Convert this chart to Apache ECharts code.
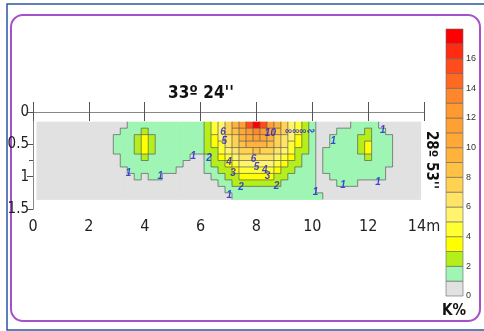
<!DOCTYPE html>
<html>
<head>
<meta charset="utf-8">
<script src="https://cdn.jsdelivr.net/npm/echarts@6/dist/echarts.min.js"></script>
<style>
    html, body {margin: 0; padding: 0; background: #fff;}
    #chart {width: 484px; height: 331px;}
</style>
</head>
<body>
<div id="chart"></div>
<script>
// distance along the profile (m), cell centres
const eastings = [0.25, 0.5, 0.75, 1, 1.25, 1.5, 1.75, 2, 2.25, 2.5, 2.75, 3, 3.25, 3.5, 3.75,
    4, 4.25, 4.5, 4.75, 5, 5.25, 5.5, 5.75, 6, 6.25, 6.5, 6.75, 7, 7.25, 7.5, 7.75,
    8, 8.25, 8.5, 8.75, 9, 9.25, 9.5, 9.75, 10, 10.25, 10.5, 10.75, 11, 11.25, 11.5, 11.75,
    12, 12.25, 12.5, 12.75, 13, 13.25, 13.5, 13.75];
// depth of each row (m)
const depths = [0.2, 0.3, 0.4, 0.5, 0.6, 0.7, 0.8, 0.9, 1.0, 1.1, 1.2, 1.3];

// K%, one row per depth
const k020 = [0.5,0.5,0.5,0.5,0.5, 0.5,0.5,0.5,0.5,0.5, 0.5,0.5,0.8,1.4,1.5, 1.9,1.5,1.4,1.4,1.4, 1.4,1.5,1.6,1.9,2.9,
    4.2,5.8,7.3,9.1,11.5, 15.0,17.2,15.0,11.5,9.1, 7.3,5.8,4.2,2.9,1.2, 0.5,0.5,0.5,0.5,0.9, 1.3,1.4,1.5,1.3,0.5, 0.5,0.5,0.5,0.5,0.5];
const k030 = [0.5,0.5,0.5,0.5,0.5, 0.5,0.5,0.5,0.5,0.5, 0.5,0.8,1.3,1.4,1.7, 2.6,1.7,1.4,1.4,1.4, 1.4,1.5,1.6,1.85,2.8,
    4.0,5.5,7.0,8.6,10.5, 12.8,13.8,12.8,10.5,8.6, 7.0,5.5,4.0,2.8,1.2, 0.5,0.5,0.7,1.05,1.4, 1.4,1.8,2.1,1.6,1.2, 0.5,0.5,0.5,0.5,0.5];
const k040 = [0.5,0.5,0.5,0.5,0.5, 0.5,0.5,0.5,0.5,0.5, 0.5,1.1,1.3,1.4,2.3, 3.4,2.3,1.5,1.4,1.4, 1.4,1.5,1.6,1.75,2.55,
    3.75,5.1,6.5,7.9,9.4, 10.7,11.4,10.7,9.4,7.9, 6.5,5.1,3.75,2.55,1.2, 0.5,0.7,1.05,1.3,1.4, 1.5,2.3,2.6,1.9,1.4, 1.1,0.5,0.5,0.5,0.5];
const k050 = [0.5,0.5,0.5,0.5,0.5, 0.5,0.5,0.5,0.5,0.5, 0.5,1.1,1.3,1.4,2.3, 3.5,2.3,1.5,1.4,1.4, 1.4,1.4,1.5,1.6,2.3,
    3.35,4.6,6.0,7.2,8.3, 9.2,9.5,9.2,8.3,7.2, 6.0,4.6,3.35,2.3,1.15, 0.5,0.8,1.2,1.4,1.4, 1.5,2.3,3.2,1.9,1.5, 1.2,0.8,0.5,0.5,0.5];
const k060 = [0.5,0.5,0.5,0.5,0.5, 0.5,0.5,0.5,0.5,0.5, 0.5,1.05,1.3,1.4,2.3, 3.1,2.3,1.5,1.4,1.4, 1.4,1.3,1.2,1.1,2.05,
    2.95,4.05,5.2,6.3,7.2, 7.8,8.1,7.8,7.2,6.3, 5.2,4.05,2.95,2.05,1.15, 0.5,1.0,1.3,1.4,1.4, 1.5,2.3,3.2,1.9,1.5, 1.2,0.8,0.5,0.5,0.5];
const k070 = [0.5,0.5,0.5,0.5,0.5, 0.5,0.5,0.5,0.5,0.5, 0.5,0.9,1.2,1.4,1.9, 2.4,1.9,1.4,1.4,1.3, 1.3,1.2,0.95,0.85,1.8,
    2.5,3.4,4.4,5.4,6.2, 6.7,6.9,6.7,6.2,5.4, 4.4,3.4,2.5,1.8,1.15, 0.5,1.05,1.3,1.4,1.4, 1.5,1.9,2.5,1.7,1.4, 1.2,0.7,0.5,0.5,0.5];
const k080 = [0.5,0.5,0.5,0.5,0.5, 0.5,0.5,0.5,0.5,0.5, 0.5,0.5,1.1,1.3,1.4, 1.6,1.4,1.3,1.3,1.2, 1.05,0.9,0.8,0.8,1.5,
    2.1,2.8,3.65,4.45,5.15, 5.6,5.8,5.6,5.15,4.45, 3.65,2.8,2.1,1.5,1.15, 0.5,1.05,1.3,1.4,1.4, 1.4,1.5,1.6,1.4,1.3, 1.1,0.5,0.5,0.5,0.5];
const k090 = [0.5,0.5,0.5,0.5,0.5, 0.5,0.5,0.5,0.5,0.5, 0.5,0.5,0.9,1.2,1.3, 1.3,1.3,1.2,1.15,1.05, 0.9,0.8,0.7,0.7,1.1,
    1.7,2.25,2.9,3.6,4.1, 4.5,4.6,4.5,4.1,3.6, 2.9,2.25,1.7,1.25,1.15, 0.5,1.0,1.2,1.3,1.4, 1.4,1.4,1.4,1.3,1.2, 0.95,0.5,0.5,0.5,0.5];
const k100 = [0.5,0.5,0.5,0.5,0.5, 0.5,0.5,0.5,0.5,0.5, 0.5,0.5,0.5,0.95,1.02, 0.85,1.02,1.05,0.95,0.8, 0.7,0.6,0.6,0.7,0.9,
    1.4,1.8,2.25,2.75,3.2, 3.5,3.6,3.5,3.2,2.75, 2.25,1.8,1.4,1.3,1.2, 0.6,0.8,1.05,1.2,1.3, 1.3,1.2,1.05,1.1,1.05, 0.8,0.5,0.5,0.5,0.5];
const k110 = [0.5,0.5,0.5,0.5,0.5, 0.5,0.5,0.5,0.5,0.5, 0.5,0.5,0.5,0.5,0.5, 0.5,0.5,0.5,0.5,0.5, 0.5,0.5,0.5,0.5,0.7,
    0.95,1.45,1.8,2.1,2.4, 2.6,2.7,2.6,2.4,2.1, 1.8,1.5,1.4,1.3,1.2, 0.7,0.5,0.9,1.1,1.15, 1.1,0.95,0.8,0.5,0.5, 0.5,0.5,0.5,0.5,0.5];
const k120 = [0.5,0.5,0.5,0.5,0.5, 0.5,0.5,0.5,0.5,0.5, 0.5,0.5,0.5,0.5,0.5, 0.5,0.5,0.5,0.5,0.5, 0.5,0.5,0.5,0.5,0.5,
    0.7,0.95,1.35,1.6,1.8, 1.95,1.95,1.95,1.8,1.6, 1.45,1.5,1.4,1.3,1.2, 0.8,0.5,0.5,0.5,0.9, 0.5,0.5,0.5,0.5,0.5, 0.5,0.5,0.5,0.5,0.5];
const k130 = [0.5,0.5,0.5,0.5,0.5, 0.5,0.5,0.5,0.5,0.5, 0.5,0.5,0.5,0.5,0.5, 0.5,0.5,0.5,0.5,0.5, 0.5,0.5,0.5,0.5,0.5,
    0.5,0.7,0.9,1.2,1.35, 1.45,1.5,1.45,1.4,1.4, 1.4,1.5,1.4,1.3,1.2, 1.05,0.6,0.5,0.5,0.5, 0.5,0.5,0.5,0.5,0.5, 0.5,0.5,0.5,0.5,0.5];
const kRows = [k020, k030, k040, k050, k060, k070, k080, k090, k100, k110, k120, k130];

// colour scale, 1 K% per band
const bandColors = ['#e1e1e1', '#9ff5b3', '#b4ef1c', '#ffff00', '#ffff33', '#fff46c', '#ffe466', '#ffd252',
    '#ffc244', '#ffb23c', '#ffa836', '#ffa132', '#ff9a30', '#ff862a', '#ff6a22', '#ff4c1a', '#ff2c12', '#ff0000'];
const colorbarLevels = [0, 1, 2, 3, 4, 5, 6, 7, 8, 9, 10, 11, 12, 13, 14, 15, 16, 17];

// blue contour labels [x, depth, text]
const contourLabels = [
    [3.42, 0.95, '1'], [4.56, 1.0, '1'], [5.74, 0.69, '1'], [6.3, 0.72, '2'],
    [6.8, 0.32, '6'], [6.85, 0.45, '5'], [7.02, 0.77, '4'], [7.16, 0.95, '3'], [7.45, 1.17, '2'], [7.03, 1.29, '1'],
    [7.9, 0.73, '6'], [8.0, 0.85, '5'], [8.3, 0.9, '4'], [8.4, 0.99, '3'], [8.72, 1.15, '2'],
    [8.5, 0.33, '10'], [9.55, 0.3, '∞∞∞∾'],
    [10.12, 1.24, '1'], [10.75, 0.46, '1'], [12.52, 0.28, '1'], [11.1, 1.13, '1'], [12.35, 1.09, '1']
];

const narrow = "'Liberation Sans Narrow', 'DejaVu Sans Condensed', 'Arial Narrow', sans-serif";
const nCols = eastings.length;

const cells = [];
kRows.forEach((row, i) => row.forEach((v, j) => cells.push([eastings[j], depths[i], v])));

function band(v) {
    return Math.min(17, Math.floor(v));
}

// one cell + the contour edge where the band changes to the right / below
function renderCell(params, api) {
    const x = api.value(0), y = api.value(1);
    const a = api.coord([x - 0.125, y - 0.05]);
    const b = api.coord([x + 0.125, y + 0.05]);
    const x0 = Math.min(a[0], b[0]), x1 = Math.max(a[0], b[0]);
    const y0 = Math.min(a[1], b[1]), y1 = Math.max(a[1], b[1]);
    const i = Math.floor(params.dataIndex / nCols), j = params.dataIndex % nCols;
    const here = band(kRows[i][j]);
    const children = [{
        type: 'rect',
        shape: {x: x0, y: y0, width: x1 - x0 + 0.6, height: y1 - y0 + 0.6},
        style: {fill: api.visual('color')}
    }];
    const edge = {stroke: '#5a5a5a', lineWidth: 0.7};
    if (j + 1 < nCols && band(kRows[i][j + 1]) !== here) {
        children.push({type: 'line', z2: 10, shape: {x1: x1, y1: y0, x2: x1, y2: y1}, style: edge});
    }
    if (i + 1 < kRows.length && band(kRows[i + 1][j]) !== here) {
        children.push({type: 'line', z2: 10, shape: {x1: x0, y1: y1, x2: x1, y2: y1}, style: edge});
    }
    return {type: 'group', children: children};
}

function renderBand(params, api) {
    const v = api.value(0);
    const a = api.coord([0, v + 1]);
    const b = api.coord([1, v]);
    return {
        type: 'rect',
        shape: {x: a[0], y: a[1], width: b[0] - a[0], height: b[1] - a[1]},
        style: {fill: bandColors[v], stroke: '#666', lineWidth: 0.6}
    };
}

const chart = echarts.init(document.getElementById('chart'));
chart.setOption({
    animation: false,
    backgroundColor: '#fff',
    grid: [
        {left: 33, top: 112, width: 391, height: 97},
        {left: 446, top: 29, width: 17, height: 267}
    ],
    xAxis: [
        {
            gridIndex: 0, type: 'value', min: 0, max: 14, interval: 2, position: 'bottom',
            axisLine: {lineStyle: {color: '#888', width: 1}},
            axisTick: {length: 9, lineStyle: {color: '#555'}},
            axisLabel: {fontFamily: narrow, fontSize: 16, color: '#222', margin: 10,
                formatter: v => v === 14 ? '14m' : String(v)},
            splitLine: {show: false}
        },
        {
            gridIndex: 0, type: 'value', min: 0, max: 14, interval: 2, position: 'top',
            axisLine: {lineStyle: {color: '#888', width: 1}},
            axisTick: {length: 10, lineStyle: {color: '#555'}},
            axisLabel: {show: false},
            splitLine: {show: false}
        },
        {gridIndex: 1, type: 'value', min: 0, max: 1, show: false}
    ],
    yAxis: [
        {
            gridIndex: 0, type: 'value', min: 0, max: 1.5, interval: 0.5, inverse: true, position: 'left',
            axisLine: {show: true, lineStyle: {color: '#888', width: 1}},
            axisTick: {show: true, length: 6, lineStyle: {color: '#555'}},
            axisLabel: {fontFamily: narrow, fontSize: 15, color: '#222', margin: 4},
            splitLine: {show: false}
        },
        {
            gridIndex: 0, type: 'value', min: 0, max: 1.5, interval: 0.75, inverse: true, position: 'right',
            axisLine: {show: true, lineStyle: {color: '#888', width: 1}},
            axisTick: {show: true, inside: true, length: 4, lineStyle: {color: '#555'}},
            axisLabel: {show: false},
            splitLine: {show: false}
        },
        {
            gridIndex: 1, type: 'value', min: 0, max: 18, interval: 2, position: 'right',
            axisLine: {show: false}, axisTick: {show: false}, splitLine: {show: false},
            axisLabel: {fontSize: 9, color: '#333', margin: 3, showMaxLabel: false,
                fontFamily: 'Arial, Liberation Sans, sans-serif'}
        }
    ],
    visualMap: {
        type: 'piecewise', show: false, dimension: 2, seriesIndex: 0,
        pieces: bandColors.map((c, i) => ({gte: i, lt: i + 1, color: c}))
    },
    series: [
        {
            type: 'custom', xAxisIndex: 0, yAxisIndex: 0, renderItem: renderCell,
            encode: {x: 0, y: 1}, data: cells, silent: true
        },
        {
            type: 'scatter', xAxisIndex: 0, yAxisIndex: 0, symbolSize: 0, silent: true,
            data: contourLabels.map(d => ({value: [d[0], d[1]], name: d[2]})),
            label: {show: true, position: 'inside', formatter: '{b}', color: '#1c1cd6',
                fontSize: 10, fontStyle: 'italic', fontWeight: 'bold', fontFamily: 'Arial, sans-serif'}
        },
        {
            type: 'custom', xAxisIndex: 2, yAxisIndex: 2, renderItem: renderBand,
            encode: {y: 0}, data: colorbarLevels, silent: true
        }
    ],
    graphic: [
        {type: 'rect', shape: {x: 7, y: 4, width: 484, height: 326}, style: {fill: 'none', stroke: '#2a56a0', lineWidth: 1.5}, silent: true},
        {type: 'rect', shape: {x: 11, y: 15, width: 469, height: 306, r: 12}, style: {fill: 'none', stroke: '#a452cc', lineWidth: 2}, silent: true},
        {type: 'text', x: 201, y: 94, style: {text: "33º 24''", font: "bold 17px " + narrow, fill: '#111', align: 'center', verticalAlign: 'middle'}},
        {type: 'text', x: 431, y: 160, rotation: -Math.PI / 2, style: {text: "28º 53''", font: "bold 15px " + narrow, fill: '#111', align: 'center', verticalAlign: 'middle'}},
        {type: 'text', x: 454, y: 311, style: {text: 'K%', font: "bold 15px " + narrow, fill: '#111', align: 'center', verticalAlign: 'middle'}},
        {type: 'line', shape: {x1: 48, y1: 143, x2: 48, y2: 125}, style: {stroke: '#111', lineWidth: 1.2}},
        {type: 'polygon', shape: {points: [[45.8, 127], [48, 121.5], [50.2, 127]]}, style: {fill: '#111'}},
        {type: 'text', x: 53, y: 139, style: {text: 'N', font: "12px " + narrow, fill: '#111', align: 'center', verticalAlign: 'middle'}}
    ]
});
</script>
</body>
</html>
